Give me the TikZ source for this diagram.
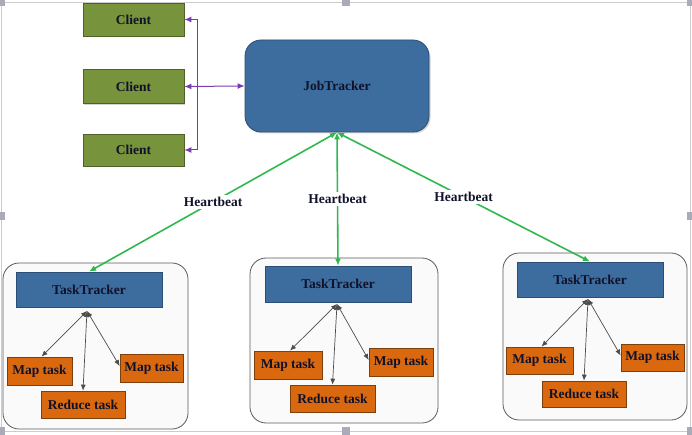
\documentclass[tikz,border=0pt]{standalone}
\usepackage{fontspec}
\setmainfont{Liberation Serif}
\usetikzlibrary{arrows.meta,shadows,calc}
\definecolor{clientfill}{HTML}{77933C}
\definecolor{clientdraw}{HTML}{4F6128}
\definecolor{bluefill}{HTML}{3D6C9E}
\definecolor{bluedraw}{HTML}{2C4D75}
\definecolor{orangefill}{HTML}{D9680F}
\definecolor{orangedraw}{HTML}{7F3F0A}
\definecolor{boxdraw}{HTML}{5A5A5A}
\definecolor{boxfill}{HTML}{FAFAFA}
\definecolor{hbgreen}{HTML}{2FB84E}
\definecolor{purp}{HTML}{7A3AB0}
\definecolor{txt}{HTML}{10122A}
\definecolor{framegray}{HTML}{CCCCCC}
\definecolor{handlegray}{HTML}{A9ABB8}
\begin{document}
\begin{tikzpicture}[x=1pt,y=-1pt,
  lbl/.style={font=\fontsize{13.5}{15}\selectfont\bfseries, text=txt},
  clientbox/.style={lbl, draw=clientdraw, fill=clientfill, line width=0.8pt, inner sep=0pt,
     drop shadow={shadow xshift=1.2pt, shadow yshift=-1.2pt, opacity=0.35}},
  jobbox/.style={lbl, draw=bluedraw, fill=bluefill, line width=0.8pt, rounded corners=16pt, inner sep=0pt,
     drop shadow={shadow xshift=1.5pt, shadow yshift=-1.5pt, opacity=0.35}},
  taskbox/.style={lbl, draw=bluedraw, fill=bluefill, line width=0.8pt, inner sep=0pt,
     drop shadow={shadow xshift=1.2pt, shadow yshift=-1.2pt, opacity=0.35}},
  workbox/.style={lbl, draw=orangedraw, fill=orangefill, line width=0.7pt, inner sep=0pt,
     drop shadow={shadow xshift=1pt, shadow yshift=-1pt, opacity=0.35}},
  container/.style={draw=boxdraw, fill=boxfill, line width=0.8pt, rounded corners=16pt, inner sep=0pt},
  hb/.style={draw=hbgreen, line width=1.6pt, {Latex[length=7pt,width=6pt]}-{Latex[length=7pt,width=6pt]}},
  hblabel/.style={lbl, fill=white, inner sep=2pt},
  pline/.style={draw=purp, line width=1pt},
  ptip/.style={-{Latex[length=7pt,width=6pt]}},
  tline/.style={draw=black!70, line width=0.7pt, {Latex[length=6pt,width=5pt]}-{Latex[length=6pt,width=5pt]}},
  handle/.style={fill=handlegray, draw=none}
]
\useasboundingbox (0,0) rectangle (692,435);
% frame
\draw[framegray, line width=0.9pt] (1.5,2.5) -- (690.5,2.5) -- (690.5,431) -- (1.5,431) -- cycle;
\fill[handlegray] (0,0) rectangle (5,6);
\fill[handlegray] (342,0) rectangle (350,6);
\fill[handlegray] (687,0) rectangle (692,6);
\fill[handlegray] (0,212) rectangle (5,220);
\fill[handlegray] (687,212) rectangle (692,220);
\fill[handlegray] (0,427) rectangle (5,435);
\fill[handlegray] (342,427) rectangle (350,435);
\fill[handlegray] (687,427) rectangle (692,435);

% clients
\node[clientbox, minimum width=101pt, minimum height=33pt] (c1) at (133.5,19.5) {Client};
\node[clientbox, minimum width=101pt, minimum height=34pt] (c2) at (133.5,86.5) {Client};
\node[clientbox, minimum width=101pt, minimum height=32pt] (c3) at (133.5,150) {Client};

% jobtracker
\node[jobbox, minimum width=184pt, minimum height=92pt] (jt) at (337,86) {JobTracker};

% purple connectors
\coordinate (bus) at (197,0);
\draw[pline, ptip] (bus |- c2.east) |- (c1.east);
\draw[pline, ptip] (bus |- c2.east) |- (c3.east);
\draw[pline, {Latex[length=7pt,width=6pt]}-{Latex[length=7pt,width=6pt]}] (c2.east) -- (jt.west);

% containers
\node[container, minimum width=185pt, minimum height=166pt] (kL) at (95.5,346) {};
\node[container, minimum width=188pt, minimum height=165pt] (kM) at (344,340.5) {};
\node[container, minimum width=184pt, minimum height=167pt] (kR) at (595,336.5) {};

% tasktrackers
\node[taskbox, minimum width=146pt, minimum height=35pt] (ttL) at (89,289.5) {TaskTracker};
\node[taskbox, minimum width=146pt, minimum height=36pt] (ttM) at (338,284) {TaskTracker};
\node[taskbox, minimum width=146pt, minimum height=35pt] (ttR) at (590,279.5) {TaskTracker};

% tasks left
\node[workbox, minimum width=65pt, minimum height=28pt] (mlL) at (39.5,371) {Map task};
\node[workbox, minimum width=63pt, minimum height=28pt] (mrL) at (151.5,368) {Map task};
\node[workbox, minimum width=84pt, minimum height=27pt] (rdL) at (83,404.5) {Reduce task};
% tasks middle
\node[workbox, minimum width=68pt, minimum height=28pt] (mlM) at (288,365) {Map task};
\node[workbox, minimum width=64pt, minimum height=28pt] (mrM) at (401,362) {Map task};
\node[workbox, minimum width=85pt, minimum height=27pt] (rdM) at (332.5,398.5) {Reduce task};
% tasks right
\node[workbox, minimum width=67pt, minimum height=27pt] (mlR) at (539.5,360.5) {Map task};
\node[workbox, minimum width=63pt, minimum height=27pt] (mrR) at (652.5,357.5) {Map task};
\node[workbox, minimum width=84pt, minimum height=26pt] (rdR) at (584,394) {Reduce task};

% hubs
\coordinate (hL) at (87,311);
\coordinate (hM) at (337,304);
\coordinate (hR) at (588,299);

\draw[tline] (hL) -- ($(mlL.north)+(2,0)$);
\draw[tline] (hL) -- (rdL.north);
\draw[tline] (hL) -- ($(mrL.west)+(0,-2)$);
\draw[tline] (hM) -- ($(mlM.north)+(2,0)$);
\draw[tline] (hM) -- (rdM.north);
\draw[tline] (hM) -- ($(mrM.west)+(0,-2)$);
\draw[tline] (hR) -- ($(mlR.north)+(2,0)$);
\draw[tline] (hR) -- (rdR.north);
\draw[tline] (hR) -- ($(mrR.west)+(0,-2)$);

% heartbeats
\draw[hb] (jt.south) -- node[hblabel] {Heartbeat} (ttL.north);
\draw[hb] (jt.south) -- node[hblabel] {Heartbeat} (ttM.north);
\draw[hb] (jt.south) -- node[hblabel] {Heartbeat} (ttR.north);
\end{tikzpicture}
\end{document}
